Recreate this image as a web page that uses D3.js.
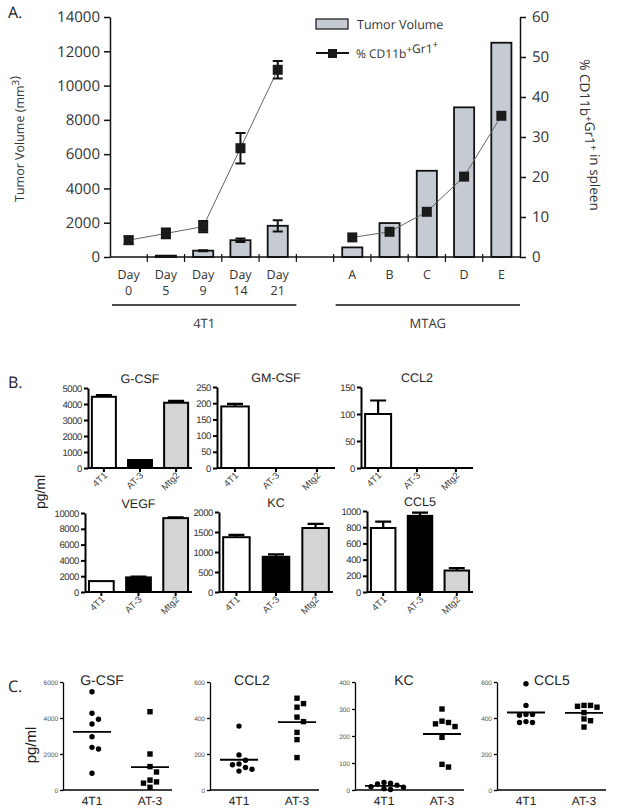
<!DOCTYPE html>
<html>
<head>
<meta charset="utf-8">
<script src="https://cdn.jsdelivr.net/npm/d3@7"></script>
<style>
  body { margin: 0; background: #fff; }
  svg { display: block; }
  text { text-rendering: geometricPrecision; }
</style>
</head>
<body>
<svg id="fig" width="619" height="809"></svg>
<script>
// ---- panel A data ----
const aCats = ["Day 0", "Day 5", "Day 9", "Day 14", "Day 21", "", "A", "B", "C", "D", "E"];
const aTumorVolume = [0, 80, 370, 980, 1820, null, 560, 1980, 5030, 8730, 12500];
const aTumorErr = [0, 0, 30, 100, 330, null, 0, 0, 0, 0, 0];
const aPctCD11b = [4.2, 5.9, 7.6, 27.2, 46.8, null, 4.9, 6.3, 11.3, 20.1, 35.3];
const aPctErr = [0.9, 1.2, 1.4, 3.8, 2.2, null, 0, 0, 0, 0, 0];
const aLeftTicks = [0, 2000, 4000, 6000, 8000, 10000, 12000, 14000];
const aRightTicks = [0, 10, 20, 30, 40, 50, 60];
const aGroups = ["4T1", "MTAG"];

// ---- panel B data ----
const bCytokines = ["G-CSF", "GM-CSF", "CCL2", "VEGF", "KC", "CCL5"];
const bCells = ["4T1", "AT-3", "Mtg2"];
const bMeans = [[4450, 500, 4080], [190, 0, 0], [100, 0, 0], [1380, 1850, 9350], [1370, 880, 1600], [790, 940, 265]];
const bErrs = [[100, 0, 120], [8, 0, 0], [25, 0, 0], [0, 110, 90], [60, 60, 105], [80, 40, 30]];
const bMax = [5000, 250, 150, 10000, 2000, 1000];
const bStep = [1000, 50, 50, 2000, 500, 200];

// ---- panel C data ----
const cCytokines = ["G-CSF", "CCL2", "KC", "CCL5"];
const cGroups = ["4T1", "AT-3"];
const c4T1 = [
  [5460, 4260, 3930, 3670, 2960, 2370, 2280, 930],
  [355, 195, 165, 145, 140, 125, 115, 105],
  [28, 25, 22, 18, 12, 10, 5, 2],
  [590, 470, 420, 420, 415, 380, 375, 375]
];
const cAT3 = [
  [4350, 2000, 1300, 1000, 550, 450, 380, 150],
  [510, 480, 460, 405, 380, 320, 280, 180],
  [300, 255, 250, 245, 235, 195, 95, 85],
  [470, 470, 465, 460, 430, 395, 385, 350]
];
const cMax = [6000, 600, 400, 600];
const cStep = [2000, 200, 100, 200];

const svg = d3.select("#fig");
const fontA = "'Open Sans', 'Noto Sans', sans-serif";
const fontB = "'Liberation Sans', Arial, sans-serif";

// panel letters
[["A.", 18], ["B.", 388], ["C.", 692]].forEach(([t, y]) => {
  svg.append("text").attr("x", 8).attr("y", y)
    .style("font-family", fontA).style("font-size", "16px").style("fill", "#222").text(t);
});

// =============== Panel A ===============
const aTop = 17, aBot = 257, aLeft = 110, aRight = 520;
const xA = d3.scaleBand().domain(d3.range(aCats.length)).range([aLeft, aRight])
  .paddingInner(0.46).paddingOuter(0.23);
const yL = d3.scaleLinear().domain([0, 14000]).range([aBot, aTop]);
const yR = d3.scaleLinear().domain([0, 60]).range([aBot, aTop]);
const barFill = "#c6cad2";

const gA = svg.append("g");

// bars
gA.selectAll(".tv").data(aCats.map((c, i) => i).filter(i => aTumorVolume[i] != null))
  .join("rect")
  .attr("x", i => xA(i)).attr("width", xA.bandwidth())
  .attr("y", i => yL(aTumorVolume[i]))
  .attr("height", i => aBot - yL(aTumorVolume[i]))
  .attr("fill", barFill).attr("stroke", "#111").attr("stroke-width", 1.8);

// bar error bars
d3.range(aCats.length).filter(i => aTumorErr[i] > 0).forEach(i => {
  const cx = xA(i) + xA.bandwidth() / 2;
  const y1 = yL(aTumorVolume[i] + aTumorErr[i]), y2 = yL(aTumorVolume[i] - aTumorErr[i]);
  gA.append("path").attr("d", `M${cx},${y1}V${y2}M${cx - 5},${y1}H${cx + 5}M${cx - 5},${y2}H${cx + 5}`)
    .attr("stroke", "#111").attr("stroke-width", 2).attr("fill", "none");
});

// line series
const line = d3.line()
  .defined((d, i) => aPctCD11b[i] != null)
  .x((d, i) => xA(i) + xA.bandwidth() / 2)
  .y((d, i) => yR(aPctCD11b[i]));
gA.append("path").datum(aPctCD11b).attr("d", line)
  .attr("fill", "none").attr("stroke", "#666").attr("stroke-width", 1);

d3.range(aCats.length).filter(i => aPctErr[i] > 0).forEach(i => {
  const cx = xA(i) + xA.bandwidth() / 2;
  const y1 = yR(aPctCD11b[i] + aPctErr[i]), y2 = yR(aPctCD11b[i] - aPctErr[i]);
  gA.append("path").attr("d", `M${cx},${y1}V${y2}M${cx - 5},${y1}H${cx + 5}M${cx - 5},${y2}H${cx + 5}`)
    .attr("stroke", "#111").attr("stroke-width", 2).attr("fill", "none");
});

gA.selectAll(".mk").data(d3.range(aCats.length).filter(i => aPctCD11b[i] != null))
  .join("rect")
  .attr("x", i => xA(i) + xA.bandwidth() / 2 - 5)
  .attr("y", i => yR(aPctCD11b[i]) - 5)
  .attr("width", 10).attr("height", 10).attr("fill", "#1a1a1a");

// axes
const axL = gA.append("g").attr("transform", `translate(${aLeft},0)`)
  .call(d3.axisLeft(yL).tickValues(aLeftTicks).tickSize(6).tickSizeOuter(0).tickPadding(4).tickFormat(d3.format("d")));
const axR = gA.append("g").attr("transform", `translate(${aRight},0)`)
  .call(d3.axisRight(yR).tickValues(aRightTicks).tickSize(6).tickSizeOuter(0).tickPadding(6));
[axL, axR].forEach(ax => {
  ax.selectAll("path, line").attr("stroke", "#111").attr("stroke-width", 1.5);
  ax.selectAll("text").style("font-family", fontA).style("font-size", "15px").style("fill", "#333");
});

// x axis line and boundary ticks
gA.append("line").attr("x1", aLeft).attr("x2", aRight).attr("y1", aBot).attr("y2", aBot)
  .attr("stroke", "#111").attr("stroke-width", 1.5);
d3.range(1, aCats.length).forEach(k => {
  const tx = aLeft + k * xA.step();
  gA.append("line").attr("x1", tx).attr("x2", tx).attr("y1", aBot - 3).attr("y2", aBot + 5)
    .attr("stroke", "#111").attr("stroke-width", 1.2);
});

// category labels
aCats.forEach((c, i) => {
  if (!c) return;
  const cx = xA(i) + xA.bandwidth() / 2;
  c.split(" ").forEach((p, j) => {
    gA.append("text").attr("x", cx).attr("y", 279 + j * 16).attr("text-anchor", "middle")
      .style("font-family", fontA).style("font-size", "12.5px").style("fill", "#333").text(p);
  });
});

// group underlines
const groupSpans = [[0, 4], [6, 10]];
aGroups.forEach((g, k) => {
  const [a, b] = groupSpans[k];
  const x1 = aLeft + a * xA.step() + 2, x2 = aLeft + (b + 1) * xA.step();
  gA.append("line").attr("x1", x1).attr("x2", x2).attr("y1", 305).attr("y2", 305)
    .attr("stroke", "#111").attr("stroke-width", 1.3);
  gA.append("text").attr("x", (x1 + x2) / 2).attr("y", 328).attr("text-anchor", "middle")
    .style("font-family", fontA).style("font-size", "13px").style("fill", "#333").text(g);
});

// axis titles
function supText(sel, parts) {
  parts.forEach(([t, sup]) => {
    sel.append("tspan").attr("dy", sup ? -5 : 0).style("font-size", sup ? "10px" : null).text(t);
    if (sup) sel.append("tspan").attr("dy", 5).text("");
  });
}
const tL = gA.append("text").attr("transform", `translate(24,${(aTop + aBot) / 2 + 2}) rotate(-90)`)
  .attr("text-anchor", "middle").style("font-family", fontA).style("font-size", "12.5px").style("fill", "#333");
supText(tL, [["Tumor Volume (mm", false], ["3", true], [")", false]]);

const tR = gA.append("text").attr("transform", `translate(580,${(aTop + aBot) / 2 - 2}) rotate(90)`)
  .attr("text-anchor", "middle").style("font-family", fontA).style("font-size", "13.5px").style("fill", "#333");
supText(tR, [["% CD11b", false], ["+", true], ["Gr1", false], ["+", true], [" in spleen", false]]);

// legend
gA.append("rect").attr("x", 316).attr("y", 19).attr("width", 32).attr("height", 10)
  .attr("fill", barFill).attr("stroke", "#111").attr("stroke-width", 1.2);
gA.append("text").attr("x", 357).attr("y", 29).style("font-family", fontA).style("font-size", "12.5px")
  .style("fill", "#333").text("Tumor Volume");
gA.append("line").attr("x1", 316).attr("x2", 349).attr("y1", 53).attr("y2", 53).attr("stroke", "#111").attr("stroke-width", 2);
gA.append("rect").attr("x", 328).attr("y", 49).attr("width", 9).attr("height", 9).attr("fill", "#1a1a1a");
const tLeg = gA.append("text").attr("x", 356).attr("y", 58).style("font-family", fontA).style("font-size", "12px")
  .style("fill", "#333");
supText(tLeg, [["% CD11b", false], ["+", true], ["Gr1", false], ["+", true]]);

// =============== Panel B ===============
const bLayout = [
  { x0: 88, x1: 192, y0: 468, y1: 388 },
  { x0: 217, x1: 335, y0: 468, y1: 387 },
  { x0: 361, x1: 473, y0: 468, y1: 387 },
  { x0: 85, x1: 192, y0: 592, y1: 513 },
  { x0: 219, x1: 333, y0: 592, y1: 512 },
  { x0: 367, x1: 473, y0: 592, y1: 511 }
];
const bFills = ["#ffffff", "#000000", "#d4d4d4"];

bCytokines.forEach((name, k) => {
  const L = bLayout[k];
  const g = svg.append("g");
  const x = d3.scaleBand().domain(bCells).range([L.x0, L.x1]).paddingInner(0.28).paddingOuter(0.08);
  const y = d3.scaleLinear().domain([0, bMax[k]]).range([L.y0, L.y1]);

  bCells.forEach((c, i) => {
    const v = bMeans[k][i];
    if (v <= 0) return;
    const cx = x(c) + x.bandwidth() / 2;
    if (bErrs[k][i] > 0) {
      const ye = y(v + bErrs[k][i]);
      g.append("path").attr("d", `M${cx},${y(v)}V${ye}M${cx - 8},${ye}H${cx + 8}`)
        .attr("stroke", "#000").attr("stroke-width", 2.2).attr("fill", "none");
    }
    g.append("rect").attr("x", x(c) + 1).attr("width", x.bandwidth() - 2)
      .attr("y", y(v)).attr("height", L.y0 - y(v))
      .attr("fill", bFills[i]).attr("stroke", "#000").attr("stroke-width", 2);
  });

  const ay = g.append("g").attr("transform", `translate(${L.x0},0)`)
    .call(d3.axisLeft(y).tickValues(d3.range(0, bMax[k] + 1, bStep[k])).tickSize(4).tickSizeOuter(0)
      .tickPadding(2).tickFormat(d3.format("d")));
  ay.selectAll("path, line").attr("stroke", "#000").attr("stroke-width", 2);
  ay.selectAll("text").style("font-family", fontB).style("font-size", "9.5px").style("fill", "#333")
    .style("letter-spacing", "-0.4px");

  const ax = g.append("g").attr("transform", `translate(0,${L.y0})`)
    .call(d3.axisBottom(x).tickSize(4).tickSizeOuter(0).tickFormat(""));
  ax.select("path").attr("d", `M${L.x0},0H${L.x1}`);
  ax.selectAll("path, line").attr("stroke", "#000").attr("stroke-width", 2);

  bCells.forEach(c => {
    const cx = x(c) + x.bandwidth() / 2;
    g.append("text").attr("transform", `translate(${cx + 4},${L.y0 + 8}) rotate(-45)`)
      .attr("text-anchor", "end").style("font-family", fontB).style("font-size", "9.5px").style("fill", "#444").text(c);
  });

  g.append("text").attr("x", (L.x0 + L.x1) / 2).attr("y", L.y1 - 5).attr("text-anchor", "middle")
    .style("font-family", fontB).style("font-size", "12.5px").style("fill", "#222").text(name);
});

svg.append("text").attr("transform", "translate(45,492) rotate(-90)").attr("text-anchor", "middle")
  .style("font-family", fontB).style("font-size", "14px").style("fill", "#222").text("pg/ml");

// =============== Panel C ===============
const cLayout = [{ x0: 63, tx: 102 }, { x0: 210, tx: 252 }, { x0: 355, tx: 404 }, { x0: 497, tx: 552 }];
const cY0 = 790, cY1 = 682;

function dodge(vals, y, cx, sp) {
  const placed = [];
  const offs = [0, sp, -sp, 2 * sp, -2 * sp, 3 * sp, -3 * sp];
  return vals.map(v => {
    const py = y(v);
    let off = 0;
    for (const o of offs) {
      off = o;
      if (!placed.some(p => Math.abs(p.x - (cx + o)) < sp * 0.95 && Math.abs(p.y - py) < sp * 0.95)) break;
    }
    const pt = { v, x: cx + off, y: py };
    placed.push(pt);
    return pt;
  });
}

cCytokines.forEach((name, k) => {
  const x0 = cLayout[k].x0, x1 = x0 + 109;
  const g = svg.append("g");
  const x = d3.scaleBand().domain(cGroups).range([x0, x0 + 116]);
  const y = d3.scaleLinear().domain([0, cMax[k]]).range([cY0, cY1]);

  const ay = g.append("g").attr("transform", `translate(${x0},0)`)
    .call(d3.axisLeft(y).tickValues(d3.range(0, cMax[k] + 1, cStep[k])).tickSize(3).tickSizeOuter(0)
      .tickPadding(2).tickFormat(d3.format("d")));
  ay.selectAll("path, line").attr("stroke", "#000").attr("stroke-width", 1.3);
  ay.selectAll("text").style("font-family", fontB).style("font-size", "6.5px").style("fill", "#555");

  g.append("line").attr("x1", x0).attr("x2", x1).attr("y1", cY0).attr("y2", cY0)
    .attr("stroke", "#000").attr("stroke-width", 1.6);

  [c4T1[k], cAT3[k]].forEach((vals, gi) => {
    const cx = x(cGroups[gi]) + x.bandwidth() / 2;
    const pts = dodge(vals, y, cx, 6.5);
    if (gi === 0) {
      g.selectAll(null).data(pts).join("circle")
        .attr("cx", d => d.x).attr("cy", d => d.y).attr("r", 2.7).attr("fill", "#000");
    } else {
      g.selectAll(null).data(pts).join("rect")
        .attr("x", d => d.x - 2.7).attr("y", d => d.y - 2.7).attr("width", 5.4).attr("height", 5.4).attr("fill", "#000");
    }
    const m = d3.mean(vals);
    g.append("line").attr("x1", cx - 19).attr("x2", cx + 19).attr("y1", y(m)).attr("y2", y(m))
      .attr("stroke", "#000").attr("stroke-width", 1.8);
    g.append("text").attr("x", cx).attr("y", 805).attr("text-anchor", "middle")
      .style("font-family", fontB).style("font-size", "12px").style("fill", "#222").text(cGroups[gi]);
  });

  g.append("text").attr("x", cLayout[k].tx).attr("y", 685)
    .attr("text-anchor", "middle").style("font-family", fontB).style("font-size", "14px").style("fill", "#222").text(name);
});

svg.append("text").attr("transform", "translate(36,745) rotate(-90)").attr("text-anchor", "middle")
  .style("font-family", fontB).style("font-size", "15px").style("fill", "#222").text("pg/ml");
</script>
</body>
</html>
